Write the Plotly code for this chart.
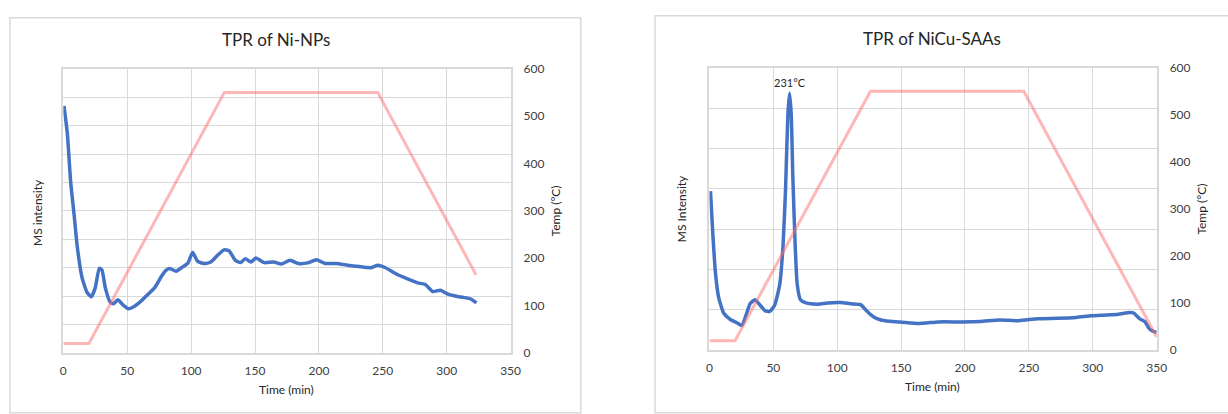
import plotly.graph_objects as go

W, H = 1228, 414

# ---- Ni-NPs: MS signal (arb. units) vs time ----
ni_time = [0.5, 3.1, 5.7, 8.3, 10.8, 14.7, 18.6, 21.9, 25.0, 28.1, 30.2, 32.8, 36.6,
           39.2, 42.6, 47.0, 50.9, 54.7, 59.9, 66.3, 71.5, 76.7, 80.0, 83.1, 88.3,
           93.4, 97.3, 101.2, 105.1, 110.2, 115.4, 120.5, 125.7, 129.6, 134.7, 138.6,
           142.4, 146.8, 150.7, 157.2, 164.6, 170.6, 177.4, 183.9, 191.3, 198.1,
           204.7, 213.6, 222.5, 231.4, 240.3, 246.2, 252.1, 261.0, 269.9, 277.3,
           283.3, 289.2, 295.1, 301.0, 308.5, 312.9, 318.9, 323.3]
ni_ms = [8.69, 7.73, 6.03, 4.91, 3.77, 2.64, 2.13, 1.98, 2.30, 2.98, 2.92, 2.30, 1.79,
         1.73, 1.87, 1.68, 1.56, 1.62, 1.79, 2.07, 2.30, 2.69, 2.90, 2.97, 2.88,
         3.03, 3.15, 3.54, 3.22, 3.15, 3.20, 3.43, 3.63, 3.60, 3.26, 3.18,
         3.32, 3.20, 3.34, 3.18, 3.20, 3.13, 3.26, 3.15, 3.17, 3.28,
         3.15, 3.15, 3.09, 3.04, 3.00, 3.09, 3.00, 2.77, 2.60, 2.47,
         2.41, 2.16, 2.21, 2.07, 1.99, 1.96, 1.90, 1.76]

# ---- Ni-NPs: temperature programme ----
ni_temp_time = [0, 20, 126, 246, 323]
ni_temp = [20, 20, 550, 550, 165]

# ---- NiCu-SAAs: MS signal (arb. units) vs time ----
saa_time = [0.8, 2.6, 4.6, 7.2, 11.1, 16.3, 21.4, 25.3, 29.2, 31.8, 35.6, 39.5, 43.4,
            47.2, 51.1, 55.0, 57.6, 59.6, 61.4, 62.7, 64.0, 65.3, 67.1, 68.7, 71.2,
            75.6, 84.6, 92.4, 102.8, 110.5, 118.3, 122.2, 126.1, 131.1, 138.6,
            149.1, 164.0, 179.0, 197.0, 212.0, 227.0, 242.0, 257.0, 272.0, 287.0,
            299.0, 311.0, 320.0, 329.0, 332.0, 336.6, 341.0, 344.0, 347.0, 350.0]
saa_ms = [3.94, 2.91, 1.95, 1.31, 0.92, 0.76, 0.68, 0.61, 0.92, 1.15, 1.25, 1.12, 0.98,
          0.96, 1.12, 1.63, 2.59, 4.02, 5.85, 6.37, 5.85, 4.26, 2.59, 1.63, 1.25,
          1.17, 1.14, 1.17, 1.18, 1.15, 1.13, 1.00, 0.88, 0.78, 0.72,
          0.70, 0.66, 0.70, 0.70, 0.71, 0.75, 0.73, 0.78, 0.79, 0.81,
          0.85, 0.87, 0.89, 0.93, 0.92, 0.78, 0.70, 0.54, 0.47, 0.44]

# ---- NiCu-SAAs: temperature programme ----
saa_temp_time = [0, 20, 126, 246, 350]
saa_temp = [20, 20, 550, 550, 28]

peak_label = "231°C"

BLUE = "rgb(68,114,196)"
PINK = "rgba(255,110,110,0.5)"
GRID = "#d9d9d9"
FONT = "Lato, 'Open Sans', sans-serif"
TXT = "#404040"


def px_x(p):
    return p / W


def px_y(p):
    return 1 - p / H


fig = go.Figure()

ms_line = dict(color=BLUE, width=3.5, shape="spline", smoothing=0.5)
temp_line = dict(color=PINK, width=3)

# Left panel
fig.add_trace(go.Scatter(x=ni_time, y=ni_ms, mode="lines", line=ms_line,
                         xaxis="x", yaxis="y", showlegend=False))
fig.add_trace(go.Scatter(x=ni_temp_time, y=ni_temp, mode="lines", line=temp_line,
                         xaxis="x", yaxis="y2", showlegend=False))
# Right panel
fig.add_trace(go.Scatter(x=saa_time, y=saa_ms, mode="lines", line=ms_line,
                         xaxis="x2", yaxis="y3", showlegend=False))
fig.add_trace(go.Scatter(x=saa_temp_time, y=saa_temp, mode="lines", line=temp_line,
                         xaxis="x2", yaxis="y4", showlegend=False))

tickfont = dict(family=FONT, size=12, color=TXT)

left_dom_x = [px_x(61), px_x(513)]
left_dom_y = [px_y(358), px_y(63)]
right_dom_x = [px_x(714), px_x(1166)]
right_dom_y = [px_y(355), px_y(62)]


def xaxis(dom, anchor):
    return dict(domain=dom, anchor=anchor, range=[0, 350], dtick=50, tick0=0,
                showgrid=True, gridcolor=GRID, gridwidth=1, zeroline=False,
                showline=True, linecolor=GRID, linewidth=1.5, mirror=True,
                ticks="", tickfont=tickfont, ticklabelstandoff=6)


def yprim(dom, anchor, top):
    return dict(domain=dom, anchor=anchor, range=[0, top], dtick=1, tick0=0,
                showgrid=True, gridcolor=GRID, gridwidth=1, zeroline=False,
                showline=True, linecolor=GRID, linewidth=1.5, mirror=True,
                showticklabels=False, ticks="")


def ysec(overlay, anchor):
    return dict(overlaying=overlay, anchor=anchor, side="right", range=[0, 600],
                dtick=100, tick0=0, showgrid=False, zeroline=False, showline=False,
                ticks="", tickfont=tickfont, ticklabelstandoff=12)


fig.update_layout(
    width=W, height=H,
    margin=dict(l=0, r=0, t=0, b=0),
    paper_bgcolor="white", plot_bgcolor="white",
    xaxis=xaxis(left_dom_x, "y"),
    yaxis=yprim(left_dom_y, "x", 10),
    yaxis2=ysec("y", "x"),
    xaxis2=xaxis(right_dom_x, "y3"),
    yaxis3=yprim(right_dom_y, "x2", 7),
    yaxis4=ysec("y3", "x2"),
)

# Chart frames
fig.add_shape(type="rect", xref="paper", yref="paper",
              x0=px_x(7), x1=px_x(584), y0=px_y(420), y1=px_y(10),
              line=dict(color=GRID, width=1.5), layer="below")
fig.add_shape(type="rect", xref="paper", yref="paper",
              x0=px_x(659), x1=px_x(1240), y0=px_y(420), y1=px_y(8),
              line=dict(color=GRID, width=1.5), layer="below")

ann = []


def text(x, y, s, size, angle=0):
    ann.append(dict(x=px_x(x), y=px_y(y), xref="paper", yref="paper", text=s,
                    showarrow=False, textangle=angle, xanchor="center", yanchor="middle",
                    font=dict(family=FONT, size=size, color="#262626")))


text(276, 33, "TPR of Ni-NPs", 17)
text(939, 32, "TPR of NiCu-SAAs", 17)
text(287, 396, "Time (min)", 12)
text(939, 393, "Time (min)", 12)
text(35, 212, "MS intensity", 12, -90)
text(686, 208, "MS Intensity", 12, -90)
text(558, 211, "Temp (°C)", 12, -90)
text(1211, 209, "Temp (°C)", 12, -90)

# Peak label on the NiCu-SAAs signal maximum
pk = saa_ms.index(max(saa_ms))
ann.append(dict(x=saa_time[pk], y=saa_ms[pk], xref="x2", yref="y3", text=peak_label,
                showarrow=False, yanchor="bottom", yshift=2,
                font=dict(family=FONT, size=11, color="#262626")))

fig.update_layout(annotations=ann)

fig.write_html("out.html")
